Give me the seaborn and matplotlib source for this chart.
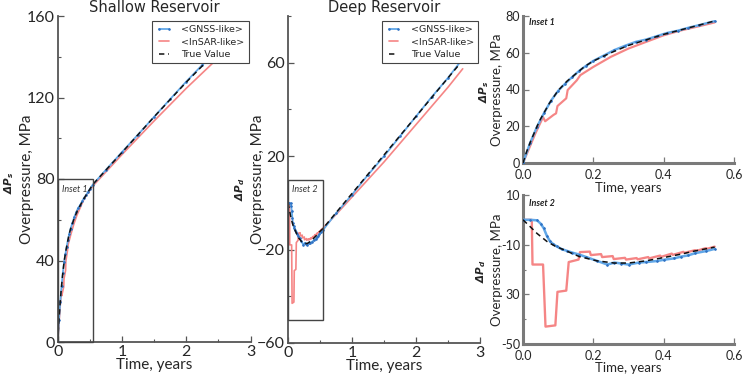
import matplotlib
matplotlib.use("Agg")
import matplotlib.pyplot as plt
from matplotlib.patches import Rectangle
from matplotlib.ticker import FixedLocator, FixedFormatter
import numpy as np
import pandas as pd
import seaborn as sns

# ---------------- data ----------------
shallow_true_t = [0, 0.01, 0.02, 0.03, 0.04, 0.05, 0.075, 0.1, 0.125, 0.15, 0.175, 0.2,
                  0.25, 0.3, 0.35, 0.4, 0.45, 0.5, 0.545, 1.0, 1.5, 2.0, 2.5, 2.73]
shallow_true_v = [0, 6, 11, 15.5, 20, 24, 32.5, 39.5, 44.5, 48.5, 52.5, 55.5,
                  60, 64, 67, 70, 72.5, 75, 77.3, 93, 110.5, 127.5, 143.5, 151]

shallow_gnss_t = [0, 0.02, 0.04, 0.06, 0.08, 0.1, 0.12, 0.14, 0.16, 0.18, 0.2, 0.23, 0.26,
                  0.29, 0.32, 0.35, 0.38, 0.41, 0.44, 0.47, 0.5, 0.545, 0.75, 1.0, 1.25,
                  1.5, 1.75, 2.0, 2.25, 2.5, 2.73]
shallow_gnss_v = [0, 10.8, 19.8, 27.3, 34, 39.3, 43.2, 46.8, 50.2, 53, 55.6, 58.5, 61.5,
                  63.8, 65.9, 67.2, 69, 70.8, 72, 73.6, 75, 77.2, 84.5, 93.2, 101.8,
                  110.5, 119.2, 127.8, 136, 143.8, 151.5]

shallow_insar_t = [0, 0.035, 0.049, 0.057, 0.063, 0.087, 0.094, 0.098, 0.123, 0.127, 0.153,
                   0.163, 0.2, 0.25, 0.3, 0.35, 0.4, 0.45, 0.5, 0.545, 1.0, 1.5, 2.0, 2.5, 2.68]
shallow_insar_v = [0, 16, 21.7, 25, 22.7, 26.2, 27, 31, 35.2, 39.7, 45,
                   47.8, 52.3, 57.8, 62.3, 65.9, 69.5, 72.2, 74.4, 76.5, 92, 108.5, 124.5, 139.5, 145]

deep_true_t = [0, 0.02, 0.04, 0.068, 0.09, 0.115, 0.16, 0.21, 0.26, 0.30, 0.35, 0.40, 0.45,
               0.49, 0.545, 1.0, 1.5, 2.0, 2.5, 2.73]
deep_true_v = [0, -2.7, -5.5, -8.7, -10.5, -12, -14.8, -16.5, -17.4, -17.4, -16.5, -15.2, -13.8,
               -12.5, -11, 4, 20.5, 37, 53.5, 61]

deep_gnss_t = [0, 0.02, 0.04, 0.05, 0.059, 0.068, 0.077, 0.086, 0.096, 0.11, 0.125, 0.14, 0.16,
               0.18, 0.21, 0.24, 0.26, 0.28, 0.30, 0.33, 0.35, 0.38, 0.40, 0.43, 0.45, 0.47,
               0.49, 0.52, 0.545, 0.75, 1.0, 1.25, 1.5, 1.75, 2.0, 2.25, 2.5, 2.73]
deep_gnss_v = [0, 0, -0.2, -1.5, -3.4, -6.5, -8.7, -9.8, -10.7, -11.8, -12.5, -13.2, -14,
               -15, -16.5, -18, -17.2, -17.6, -18, -17.2, -17, -16.6, -16.1, -15.5, -14.8, -14.3,
               -13.4, -12.6, -11.7, -4.5, 3.5, 12, 20, 28.5, 37, 45.5, 53.5, 61.7]

deep_insar_t = [0, 0.025, 0.027, 0.057, 0.064, 0.092, 0.098, 0.123, 0.13, 0.158,
                0.162, 0.19, 0.193, 0.222, 0.225, 0.255, 0.258, 0.29, 0.293, 0.323, 0.326,
                0.356, 0.359, 0.39, 0.393, 0.423, 0.426, 0.456, 0.459, 0.49, 0.493, 0.52,
                0.523, 0.545, 0.75, 1.0, 1.25, 1.5, 1.75, 2.0, 2.25, 2.5, 2.73]
deep_insar_v = [0, 0, -18, -18, -43, -42.5, -29, -28.5, -17, -16,
                -13.0, -12.8, -14.2, -13.8, -15.0, -14.6, -15.8, -15.3, -16.0, -15.4, -15.9,
                -15.0, -15.5, -14.4, -14.9, -13.6, -14.1, -12.9, -13.3, -12.2, -12.5, -11.4,
                -11.7, -10.8, -5, 2.5, 10, 17.5, 25.5, 33.5, 41.5, 49.5, 57.4]

inset1_box_t = [0, 0.55]
inset1_box_v = [0, 80]
inset2_box_t = [0, 0.55]
inset2_box_v = [-50, 10]

shallow_yticks = [0, 40, 80, 120, 160]
deep_yticks = [-60, -20, 20, 60]
main_xticks = [0, 1, 2, 3]
inset_xticks = [0.0, 0.2, 0.4, 0.6]
inset1_yticks = [0, 20, 40, 60, 80]
inset2_yticks = [10, -10, -30, -50]
inset2_yticklabels = ["10", "-10", "30", "-50"]

series_labels = ["<GNSS-like>", "<InSAR-like>", "True Value"]

# ---------------- style ----------------
sns.set_theme(style="ticks")
plt.rcParams["font.family"] = ["Lato", "DejaVu Sans"]
plt.rcParams["mathtext.fontset"] = "custom"
plt.rcParams["mathtext.rm"] = "DejaVu Sans:italic:bold"
plt.rcParams["mathtext.it"] = "DejaVu Sans:italic:bold"

BLUE = "#62a8e8"
BLUE_DOT = "#2f72c4"
RED = "#f57f7f"
BLACK = "#111111"

W, H = 743, 382
fig = plt.figure(figsize=(W / 100, H / 100), dpi=100)


def px_axes(x0, x1, ytop, ybot):
    return fig.add_axes([x0 / W, 1 - ybot / H, (x1 - x0) / W, (ybot - ytop) / H])


ax_s = px_axes(57.7, 250.5, 16, 342)
ax_d = px_axes(288, 480, 16, 343)
ax_i1 = px_axes(523, 734, 16, 163)
ax_i2 = px_axes(523, 734, 195, 344)


def frame(t, v, tmax=None):
    df = pd.DataFrame({"t": t, "v": v})
    if tmax is not None:
        df = df[df["t"] <= tmax]
    return df


def draw(ax, gt, gv, it, iv, tt, tv, tmax=None, lw_scale=1.0):
    g = frame(gt, gv, tmax)
    r = frame(it, iv, tmax)
    k = frame(tt, tv, tmax)
    sns.lineplot(data=r, x="t", y="v", ax=ax, color=RED, lw=1.2 * lw_scale, alpha=0.95,
                 estimator=None, sort=False, label=series_labels[1], zorder=2)
    sns.lineplot(data=g, x="t", y="v", ax=ax, color=BLUE, lw=1.3 * lw_scale, marker=".",
                 markersize=2.2, markerfacecolor=BLUE_DOT, markeredgecolor=BLUE_DOT,
                 estimator=None, sort=False, label=series_labels[0], zorder=3)
    sns.lineplot(data=k, x="t", y="v", ax=ax, color=BLACK, lw=1.1, linestyle=(0, (3.5, 2.5)),
                 estimator=None, sort=False, label=series_labels[2], zorder=4)


draw(ax_s, shallow_gnss_t, shallow_gnss_v, shallow_insar_t, shallow_insar_v,
     shallow_true_t, shallow_true_v)
draw(ax_d, deep_gnss_t, deep_gnss_v, deep_insar_t, deep_insar_v, deep_true_t, deep_true_v)
draw(ax_i1, shallow_gnss_t, shallow_gnss_v, shallow_insar_t, shallow_insar_v,
     shallow_true_t, shallow_true_v, tmax=inset1_box_t[1], lw_scale=1.3)
draw(ax_i2, deep_gnss_t, deep_gnss_v, deep_insar_t, deep_insar_v, deep_true_t, deep_true_v,
     tmax=inset2_box_t[1], lw_scale=1.4)

# limits and ticks
ax_s.set_xlim(0, 3)
ax_s.set_ylim(0, 160)
ax_d.set_xlim(0, 3)
ax_d.set_ylim(-60, 80)
ax_i1.set_xlim(0, 0.6)
ax_i1.set_ylim(0, 80)
ax_i2.set_xlim(0, 0.6)
ax_i2.set_ylim(-50, 10)

ax_s.set_yticks(shallow_yticks)
ax_s.yaxis.set_minor_locator(FixedLocator([20, 60, 100, 140]))
ax_d.set_yticks(deep_yticks)
ax_d.yaxis.set_minor_locator(FixedLocator([-40, 0, 40, 80]))
for ax in (ax_s, ax_d):
    ax.set_xticks(main_xticks)
    ax.set_xticklabels([str(v) for v in main_xticks])
    ax.xaxis.set_minor_locator(FixedLocator([0.5, 1.5, 2.5]))
for ax in (ax_i1, ax_i2):
    ax.set_xticks(inset_xticks)
    ax.set_xticklabels([f"{v:.1f}" for v in inset_xticks])
ax_i1.set_yticks(inset1_yticks)
ax_i2.yaxis.set_major_locator(FixedLocator(inset2_yticks))
ax_i2.yaxis.set_major_formatter(FixedFormatter(inset2_yticklabels))
ax_i2.yaxis.set_minor_locator(FixedLocator([0, -20, -40]))

for ax, main in ((ax_s, True), (ax_d, True), (ax_i1, False), (ax_i2, False)):
    for sp in ("top", "right"):
        ax.spines[sp].set_visible(False)
    col = "#555555" if main else "#7a7a7a"
    lw = 1.3 if main else 2.2
    for sp in ("left", "bottom"):
        ax.spines[sp].set_color(col)
        ax.spines[sp].set_linewidth(lw)
    ax.tick_params(which="major", direction="in", length=4, width=0.9, color=col,
                   labelsize=11.5 if main else 9, pad=2)
    ax.tick_params(which="minor", direction="in", length=2.5, width=0.8, color=col)
    ax.set_facecolor("white")
    ax.set_xlabel("Time, years", fontsize=11 if main else 9.5)
    ax.set_ylabel("Overpressure, MPa", fontsize=11 if main else 9.5)

ax_i1.tick_params(axis="x", pad=4.5)
ax_i2.tick_params(axis="x", pad=4.5)

ax_s.xaxis.set_label_coords(0.5, -0.05)
ax_d.xaxis.set_label_coords(0.5, -0.05)
ax_i1.xaxis.set_label_coords(0.5, -0.13)
ax_i2.xaxis.set_label_coords(0.5, -0.12)
ax_s.yaxis.set_label_coords(-0.125, 0.5)
ax_d.yaxis.set_label_coords(-0.12, 0.5)
ax_i1.yaxis.set_label_coords(-0.095, 0.5)
ax_i2.yaxis.set_label_coords(-0.095, 0.5)

# titles
ax_s.set_title("Shallow Reservoir", fontsize=10.5, family="DejaVu Sans", pad=3)
ax_d.set_title("Deep Reservoir", fontsize=10.5, family="DejaVu Sans", pad=3)

# legends on main panels
for ax in (ax_s, ax_d):
    handles, labels = ax.get_legend_handles_labels()
    order = [labels.index(l) for l in series_labels]
    leg = ax.legend([handles[i] for i in order], [labels[i] for i in order],
                    loc="upper right", bbox_to_anchor=(1.0, 0.99),
                    frameon=True, fancybox=False, framealpha=1, edgecolor="#444444",
                    handlelength=1.6, numpoints=2, borderpad=0.45, labelspacing=0.35,
                    handletextpad=1.0, borderaxespad=0.2,
                    prop={"family": "DejaVu Sans", "size": 6.8})
    leg.get_frame().set_linewidth(0.8)
    leg.set_zorder(10)
for ax in (ax_i1, ax_i2):
    lg = ax.get_legend()
    if lg is not None:
        lg.remove()

# inset boxes
for ax, bt, bv, name in ((ax_s, inset1_box_t, inset1_box_v, "Inset 1"),
                         (ax_d, inset2_box_t, inset2_box_v, "Inset 2")):
    ax.add_patch(Rectangle((bt[0], bv[0]), bt[1] - bt[0], bv[1] - bv[0], fill=False,
                           edgecolor="#444444", lw=1.0, zorder=5, clip_on=False))
    ax.annotate(name, xy=(bt[0], bv[1]), xytext=(3, -4), textcoords="offset points",
                ha="left", va="top", fontsize=6.5, style="italic", color="#333333")
ax_i1.text(0.03, 0.985, "Inset 1", transform=ax_i1.transAxes, ha="left", va="top",
           fontsize=6.5, style="italic", fontweight="bold", color="#222222")
ax_i2.text(0.03, 0.97, "Inset 2", transform=ax_i2.transAxes, ha="left", va="top",
           fontsize=6.5, style="italic", fontweight="bold", color="#222222")

# Delta P side labels
for (x, y, s) in ((9, 183, r"$\Delta P_s$"), (240, 189, r"$\Delta P_d$"),
                  (484, 92, r"$\Delta P_s$"), (481, 271, r"$\Delta P_d$")):
    fig.text(x / W, 1 - y / H, s, rotation=90, ha="center", va="center", fontsize=7.5)

fig.savefig("out.png", dpi=100, facecolor="white")
